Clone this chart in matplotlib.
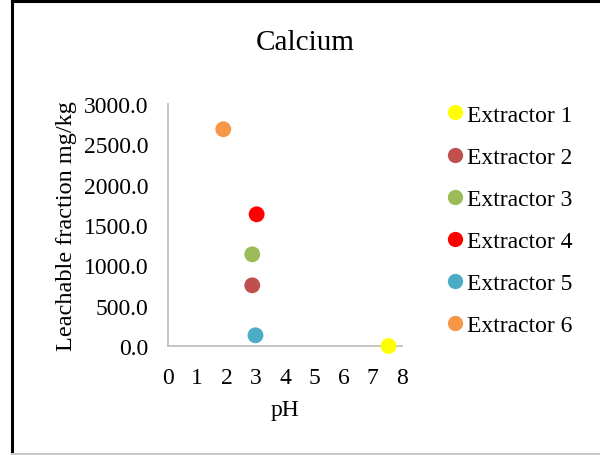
import matplotlib
matplotlib.use('Agg')
import matplotlib.pyplot as plt
from matplotlib.lines import Line2D

plt.rcParams['font.family'] = ['Liberation Serif', 'DejaVu Serif']

labels = ['Extractor 1', 'Extractor 2', 'Extractor 3',
          'Extractor 4', 'Extractor 5', 'Extractor 6']
ph = [7.54, 2.88, 2.88, 3.03, 2.99, 1.89]
leach = [0.0, 752.0, 1136.0, 1632.0, 133.0, 2686.0]
colors = ['#FFFF00', '#C0504D', '#9BBB59', '#FF0000', '#4BACC6', '#F79646']

fs = 17

fig = plt.figure(figsize=(6, 4.56), dpi=100)
ax = fig.add_axes([0.28, 0.239, 0.39, 0.531])

for x, y, c, lab in zip(ph, leach, colors, labels):
    ax.scatter(x, y, s=130, color=c, label=lab, zorder=3, clip_on=False,
               edgecolors='none')

ax.set_xlim(0, 8)
ax.set_ylim(0, 3000)
ax.set_xticks(range(0, 9))
ax.set_yticks(range(0, 3001, 500))
ax.set_yticklabels(['{:.1f}'.format(v) for v in range(0, 3001, 500)])
ax.tick_params(axis='both', length=0, labelsize=fs)
ax.tick_params(axis='y', pad=14)
ax.tick_params(axis='x', pad=15)

for side in ['top', 'right']:
    ax.spines[side].set_visible(False)
for side in ['left', 'bottom']:
    ax.spines[side].set_color('#BFBFBF')
    ax.spines[side].set_linewidth(1.3)

ax.set_xlabel('pH', fontsize=fs, labelpad=8)
ax.set_ylabel('Leachable fraction mg/kg', fontsize=17.5, labelpad=5)
fig.text(0.508, 0.905, 'Calcium', ha='center', va='center', fontsize=21)

handles = [Line2D([], [], marker='o', linestyle='none', markersize=11,
                  markerfacecolor=c, markeredgecolor='none') for c in colors]
fig.legend(handles, labels, loc='upper left', bbox_to_anchor=(0.725, 0.79),
           frameon=False, fontsize=fs, handletextpad=0.05,
           handlelength=0.9, labelspacing=0.87, borderaxespad=0)

# outer frame of the chart area
fig.add_artist(Line2D([0.02, 0.02], [0.0, 0.995], color='black', lw=2.2,
                      transform=fig.transFigure))
fig.add_artist(Line2D([0.02, 1.0], [0.995, 0.995], color='black', lw=2.2,
                      transform=fig.transFigure))
fig.add_artist(Line2D([0.02, 1.0], [0.003, 0.003], color='#C8C8C8', lw=1.5,
                      transform=fig.transFigure))

fig.savefig('out.png', dpi=100, facecolor='white')
